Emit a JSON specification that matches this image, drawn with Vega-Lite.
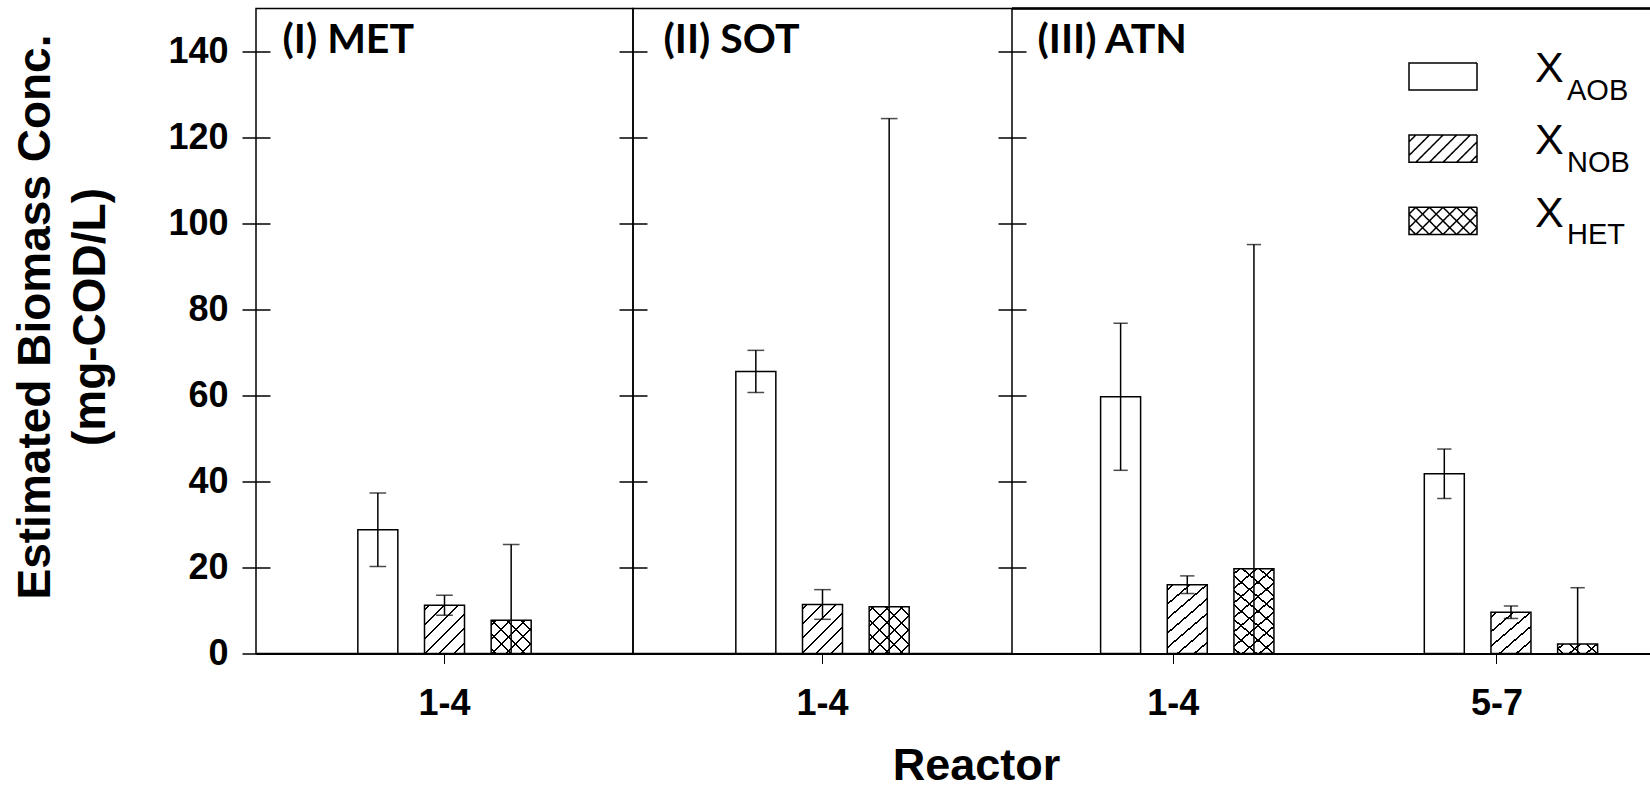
{
  "$schema": "https://vega.github.io/schema/vega-lite/v6.json",
  "padding": {"left": 11, "top": 7.5, "right": 0, "bottom": 0},
  "params": [
    {"name": "hatchWhite", "value": [
      {"offset": 0.02857, "color": "white"}, {"offset": 0.02857, "color": "black"}, {"offset": 0.04286, "color": "black"}, {"offset": 0.04286, "color": "white"},
      {"offset": 0.13214, "color": "white"}, {"offset": 0.13214, "color": "black"}, {"offset": 0.14643, "color": "black"}, {"offset": 0.14643, "color": "white"},
      {"offset": 0.23571, "color": "white"}, {"offset": 0.23571, "color": "black"}, {"offset": 0.25, "color": "black"}, {"offset": 0.25, "color": "white"},
      {"offset": 0.33929, "color": "white"}, {"offset": 0.33929, "color": "black"}, {"offset": 0.35357, "color": "black"}, {"offset": 0.35357, "color": "white"},
      {"offset": 0.44286, "color": "white"}, {"offset": 0.44286, "color": "black"}, {"offset": 0.45714, "color": "black"}, {"offset": 0.45714, "color": "white"},
      {"offset": 0.54643, "color": "white"}, {"offset": 0.54643, "color": "black"}, {"offset": 0.56071, "color": "black"}, {"offset": 0.56071, "color": "white"},
      {"offset": 0.65, "color": "white"}, {"offset": 0.65, "color": "black"}, {"offset": 0.66429, "color": "black"}, {"offset": 0.66429, "color": "white"},
      {"offset": 0.75357, "color": "white"}, {"offset": 0.75357, "color": "black"}, {"offset": 0.76786, "color": "black"}, {"offset": 0.76786, "color": "white"},
      {"offset": 0.85714, "color": "white"}, {"offset": 0.85714, "color": "black"}, {"offset": 0.87143, "color": "black"}, {"offset": 0.87143, "color": "white"},
      {"offset": 0.96071, "color": "white"}, {"offset": 0.96071, "color": "black"}, {"offset": 0.975, "color": "black"}, {"offset": 0.975, "color": "white"}
    ]},
    {"name": "hatchClear", "value": [
      {"offset": 0.02857, "color": "rgba(0,0,0,0)"}, {"offset": 0.02857, "color": "black"}, {"offset": 0.04286, "color": "black"}, {"offset": 0.04286, "color": "rgba(0,0,0,0)"},
      {"offset": 0.13214, "color": "rgba(0,0,0,0)"}, {"offset": 0.13214, "color": "black"}, {"offset": 0.14643, "color": "black"}, {"offset": 0.14643, "color": "rgba(0,0,0,0)"},
      {"offset": 0.23571, "color": "rgba(0,0,0,0)"}, {"offset": 0.23571, "color": "black"}, {"offset": 0.25, "color": "black"}, {"offset": 0.25, "color": "rgba(0,0,0,0)"},
      {"offset": 0.33929, "color": "rgba(0,0,0,0)"}, {"offset": 0.33929, "color": "black"}, {"offset": 0.35357, "color": "black"}, {"offset": 0.35357, "color": "rgba(0,0,0,0)"},
      {"offset": 0.44286, "color": "rgba(0,0,0,0)"}, {"offset": 0.44286, "color": "black"}, {"offset": 0.45714, "color": "black"}, {"offset": 0.45714, "color": "rgba(0,0,0,0)"},
      {"offset": 0.54643, "color": "rgba(0,0,0,0)"}, {"offset": 0.54643, "color": "black"}, {"offset": 0.56071, "color": "black"}, {"offset": 0.56071, "color": "rgba(0,0,0,0)"},
      {"offset": 0.65, "color": "rgba(0,0,0,0)"}, {"offset": 0.65, "color": "black"}, {"offset": 0.66429, "color": "black"}, {"offset": 0.66429, "color": "rgba(0,0,0,0)"},
      {"offset": 0.75357, "color": "rgba(0,0,0,0)"}, {"offset": 0.75357, "color": "black"}, {"offset": 0.76786, "color": "black"}, {"offset": 0.76786, "color": "rgba(0,0,0,0)"},
      {"offset": 0.85714, "color": "rgba(0,0,0,0)"}, {"offset": 0.85714, "color": "black"}, {"offset": 0.87143, "color": "black"}, {"offset": 0.87143, "color": "rgba(0,0,0,0)"},
      {"offset": 0.96071, "color": "rgba(0,0,0,0)"}, {"offset": 0.96071, "color": "black"}, {"offset": 0.975, "color": "black"}, {"offset": 0.975, "color": "rgba(0,0,0,0)"}
    ]}
  ],
  "data": {"values": [
    {"panel": "MET", "reactor": "1-4", "type": "AOB", "value": 28.8, "low": 20.25, "high": 37.35},
    {"panel": "MET", "reactor": "1-4", "type": "NOB", "value": 11.2, "low": 8.9, "high": 13.55},
    {"panel": "MET", "reactor": "1-4", "type": "HET", "value": 7.75, "low": -9.85, "high": 25.35},
    {"panel": "SOT", "reactor": "1-4", "type": "AOB", "value": 65.6, "low": 60.7, "high": 70.5},
    {"panel": "SOT", "reactor": "1-4", "type": "NOB", "value": 11.4, "low": 7.95, "high": 14.85},
    {"panel": "SOT", "reactor": "1-4", "type": "HET", "value": 10.9, "low": -102.6, "high": 124.4},
    {"panel": "ATN", "reactor": "1-4", "type": "AOB", "value": 59.7, "low": 42.6, "high": 76.8},
    {"panel": "ATN", "reactor": "1-4", "type": "NOB", "value": 16.0, "low": 13.95, "high": 18.05},
    {"panel": "ATN", "reactor": "1-4", "type": "HET", "value": 19.7, "low": -55.7, "high": 95.1},
    {"panel": "ATN", "reactor": "5-7", "type": "AOB", "value": 41.8, "low": 36.05, "high": 47.55},
    {"panel": "ATN", "reactor": "5-7", "type": "NOB", "value": 9.6, "low": 8.15, "high": 11.05},
    {"panel": "ATN", "reactor": "5-7", "type": "HET", "value": 2.2, "low": -10.9, "high": 15.3}
  ]},
  "spacing": 0,
  "bounds": "flush",
  "resolve": {
    "scale": {"shape": "independent", "strokeDash": "independent"},
    "legend": {"shape": "independent", "strokeDash": "independent"}
  },
  "hconcat": [
    {
      "width": 377,
      "height": 645,
      "transform": [{"filter": "datum.panel === 'MET'"}],
      "encoding": {
        "x": {"field": "reactor", "type": "nominal", "scale": {"paddingInner": 0, "paddingOuter": 0.4425},
          "axis": {"title": "(I) MET", "titleFont": "Lato", "titleFontWeight": "bold", "titleFontSize": 41, "titleColor": "black", "titleAlign": "left", "titleBaseline": "alphabetic", "titleX": 26, "titleY": -601.5,
            "labelAngle": 0, "labelFont": "Liberation Sans", "labelFontSize": 36, "labelFontWeight": "bold", "labelColor": "black", "labelPadding": 23, "tickSize": 10, "tickWidth": 1, "tickColor": "black", "domainColor": "black", "domainWidth": 2}},
        "xOffset": {"field": "type", "type": "nominal", "scale": {"domain": ["AOB", "NOB", "HET"], "paddingInner": 0.4, "paddingOuter": 0.2}}
      },
      "layer": [
        {
          "mark": {"type": "bar", "stroke": "black", "strokeWidth": 1.5},
          "encoding": {
            "y": {"field": "value", "type": "quantitative", "scale": {"domain": [0, 150], "nice": false, "clamp": true},
              "axis": {"values": [0, 20, 40, 60, 80, 100, 120, 140], "offset": -14, "tickSize": 28, "tickWidth": 1.5, "tickColor": "black", "domain": false, "grid": false,
                "labelFont": "Liberation Sans", "labelFontSize": 36, "labelFontWeight": "bold", "labelColor": "black", "labelPadding": 14,
                "title": ["Estimated Biomass Conc.", "(mg-COD/L)"], "titleFont": "Liberation Sans", "titleFontSize": 46, "titleFontWeight": "bold", "titleColor": "black",
                "titleLineHeight": 55, "titleAngle": -90, "titleAlign": "center", "titleBaseline": "middle", "titleX": -235, "titleY": 308}},
            "fill": {"value": {"expr": "datum.type === 'AOB' ? 'white' : {gradient: 'linear', x1: 0, y1: 0, x2: 5600 / (1600 + pow(4.3 * datum.value, 2)), y2: 602 * datum.value / (1600 + pow(4.3 * datum.value, 2)), stops: hatchWhite}"}}
          }
        },
        {
          "transform": [{"filter": "datum.type === 'HET'"}],
          "mark": {"type": "bar", "strokeWidth": 0},
          "encoding": {
            "y": {"field": "value", "type": "quantitative", "scale": {"domain": [0, 150], "nice": false, "clamp": true}},
            "fill": {"value": {"expr": "{gradient: 'linear', x1: 0, y1: 1, x2: 5600 / (1600 + pow(4.3 * datum.value, 2)), y2: 1 - 602 * datum.value / (1600 + pow(4.3 * datum.value, 2)), stops: hatchClear}"}}
          }
        },
        {
          "mark": {"type": "rule", "color": "black", "strokeWidth": 1.5},
          "encoding": {
            "y": {"field": "low", "type": "quantitative", "scale": {"domain": [0, 150], "nice": false, "clamp": true}},
            "y2": {"field": "high"}
          }
        },
        {
          "mark": {"type": "tick", "color": "black", "size": 16.7, "thickness": 1.5},
          "encoding": {"y": {"field": "high", "type": "quantitative", "scale": {"domain": [0, 150], "nice": false, "clamp": true}}}
        },
        {
          "transform": [{"filter": "datum.low > 0"}],
          "mark": {"type": "tick", "color": "black", "size": 16.7, "thickness": 1.5},
          "encoding": {"y": {"field": "low", "type": "quantitative", "scale": {"domain": [0, 150], "nice": false, "clamp": true}}}
        }
      ]
    },
    {
      "width": 379,
      "height": 645,
      "transform": [{"filter": "datum.panel === 'SOT'"}],
      "encoding": {
        "x": {"field": "reactor", "type": "nominal", "scale": {"paddingInner": 0, "paddingOuter": 0.4475},
          "axis": {"title": "Reactor", "titleFont": "Liberation Sans", "titleFontSize": 45, "titleFontWeight": "bold", "titleColor": "black", "titleX": 343, "titleY": 126, "titleAlign": "center", "titleBaseline": "alphabetic",
            "labelAngle": 0, "labelFont": "Liberation Sans", "labelFontSize": 36, "labelFontWeight": "bold", "labelColor": "black", "labelPadding": 23, "tickSize": 10, "tickWidth": 1, "tickColor": "black", "domainColor": "black", "domainWidth": 2}},
        "xOffset": {"field": "type", "type": "nominal", "scale": {"domain": ["AOB", "NOB", "HET"], "paddingInner": 0.4, "paddingOuter": 0.2}}
      },
      "layer": [
        {
          "mark": {"type": "bar", "stroke": "black", "strokeWidth": 1.5},
          "encoding": {
            "y": {"field": "value", "type": "quantitative", "scale": {"domain": [0, 150], "nice": false, "clamp": true},
              "axis": {"values": [0, 20, 40, 60, 80, 100, 120, 140], "offset": -14, "tickSize": 28, "tickWidth": 1.5, "tickColor": "black", "domain": false, "grid": false, "labels": false,
                "title": "(II) SOT", "titleFont": "Lato", "titleFontWeight": "bold", "titleFontSize": 41, "titleColor": "black", "titleAngle": 0, "titleAlign": "left", "titleBaseline": "alphabetic", "titleX": 16, "titleY": 44}},
            "fill": {"value": {"expr": "datum.type === 'AOB' ? 'white' : {gradient: 'linear', x1: 0, y1: 0, x2: 5600 / (1600 + pow(4.3 * datum.value, 2)), y2: 602 * datum.value / (1600 + pow(4.3 * datum.value, 2)), stops: hatchWhite}"}}
          }
        },
        {
          "transform": [{"filter": "datum.type === 'HET'"}],
          "mark": {"type": "bar", "strokeWidth": 0},
          "encoding": {
            "y": {"field": "value", "type": "quantitative", "scale": {"domain": [0, 150], "nice": false, "clamp": true}},
            "fill": {"value": {"expr": "{gradient: 'linear', x1: 0, y1: 1, x2: 5600 / (1600 + pow(4.3 * datum.value, 2)), y2: 1 - 602 * datum.value / (1600 + pow(4.3 * datum.value, 2)), stops: hatchClear}"}}
          }
        },
        {
          "mark": {"type": "rule", "color": "black", "strokeWidth": 1.5},
          "encoding": {
            "y": {"field": "low", "type": "quantitative", "scale": {"domain": [0, 150], "nice": false, "clamp": true}},
            "y2": {"field": "high"}
          }
        },
        {
          "mark": {"type": "tick", "color": "black", "size": 16.7, "thickness": 1.5},
          "encoding": {"y": {"field": "high", "type": "quantitative", "scale": {"domain": [0, 150], "nice": false, "clamp": true}}}
        },
        {
          "transform": [{"filter": "datum.low > 0"}],
          "mark": {"type": "tick", "color": "black", "size": 16.7, "thickness": 1.5},
          "encoding": {"y": {"field": "low", "type": "quantitative", "scale": {"domain": [0, 150], "nice": false, "clamp": true}}}
        }
      ]
    },
    {
      "width": 638,
      "height": 645,
      "view": {"stroke": null},
      "transform": [{"filter": "datum.panel === 'ATN'"}],
      "layer": [
        {
          "encoding": {
            "x": {"field": "reactor", "type": "nominal", "scale": {"paddingInner": 0.4686, "paddingOuter": 0.2198, "align": 0.529},
              "axis": {"title": null, "labelAngle": 0, "labelFont": "Liberation Sans", "labelFontSize": 36, "labelFontWeight": "bold", "labelColor": "black", "labelPadding": 23, "tickSize": 10, "tickWidth": 1, "tickColor": "black", "domainColor": "black", "domainWidth": 2}},
            "xOffset": {"field": "type", "type": "nominal", "scale": {"domain": ["AOB", "NOB", "HET"], "paddingInner": 0.4, "paddingOuter": 0.2}}
          },
          "layer": [
            {
              "mark": {"type": "bar", "stroke": "black", "strokeWidth": 1.5},
              "encoding": {
                "y": {"field": "value", "type": "quantitative", "scale": {"domain": [0, 150], "nice": false, "clamp": true},
                  "axis": {"values": [0, 20, 40, 60, 80, 100, 120, 140], "offset": -14, "tickSize": 28, "tickWidth": 1.5, "tickColor": "black", "domain": false, "grid": false, "labels": false,
                    "title": "(III) ATN", "titleFont": "Lato", "titleFontWeight": "bold", "titleFontSize": 41, "titleColor": "black", "titleAngle": 0, "titleAlign": "left", "titleBaseline": "alphabetic", "titleX": 11, "titleY": 44}},
                "fill": {"value": {"expr": "datum.type === 'AOB' ? 'white' : {gradient: 'linear', x1: 0, y1: 0, x2: 4816 / (1183.36 + pow(4.3 * datum.value, 2)), y2: 602 * datum.value / (1183.36 + pow(4.3 * datum.value, 2)), stops: hatchWhite}"}}
              }
            },
            {
              "transform": [{"filter": "datum.type === 'HET'"}],
              "mark": {"type": "bar", "strokeWidth": 0},
              "encoding": {
                "y": {"field": "value", "type": "quantitative", "scale": {"domain": [0, 150], "nice": false, "clamp": true}},
                "fill": {"value": {"expr": "{gradient: 'linear', x1: 0, y1: 1, x2: 4816 / (1183.36 + pow(4.3 * datum.value, 2)), y2: 1 - 602 * datum.value / (1183.36 + pow(4.3 * datum.value, 2)), stops: hatchClear}"}}
              }
            },
            {
              "mark": {"type": "rule", "color": "black", "strokeWidth": 1.5},
              "encoding": {
                "y": {"field": "low", "type": "quantitative", "scale": {"domain": [0, 150], "nice": false, "clamp": true}},
                "y2": {"field": "high"},
                "strokeDash": {"field": "type", "type": "nominal", "sort": ["AOB", "NOB", "HET"], "scale": {"range": [[1, 0], [1, 0], [1, 0]]},
                  "legend": {"orient": "none", "legendX": 396, "legendY": 33, "title": null, "padding": 0, "symbolSize": 4624, "symbolType": "M-1,-0.4H1V0.4H-1Z", "symbolOpacity": 1,
                    "symbolFillColor": "white", "symbolStrokeColor": "black", "symbolStrokeWidth": 1.5,
                    "labelFont": "Liberation Sans", "labelFontSize": 29, "labelColor": "black", "labelOffset": 89, "labelLimit": 0, "labelBaseline": "alphabetic", "rowPadding": 8.2,
                    "encode": {
                      "symbols": {"update": {
                        "shape": {"signal": "datum.value === 'NOB' ? 'M-1,-0.4H1V0.4H-1Z M-1,-0.2L-0.8,-0.4 M-1,0.2L-0.4,-0.4 M-0.8,0.4L0,-0.4 M-0.4,0.4L0.4,-0.4 M0,0.4L0.8,-0.4 M0.4,0.4L1,-0.2 M0.8,0.4L1,0.2' : datum.value === 'HET' ? 'M-1,-0.4H1V0.4H-1Z M-1,-0.2L-0.8,-0.4 M-1,0.2L-0.4,-0.4 M-0.8,0.4L0,-0.4 M-0.4,0.4L0.4,-0.4 M0,0.4L0.8,-0.4 M0.4,0.4L1,-0.2 M0.8,0.4L1,0.2 M-1,0.2L-0.8,0.4 M-1,-0.2L-0.4,0.4 M-0.8,-0.4L0,0.4 M-0.4,-0.4L0.4,0.4 M0,-0.4L0.8,0.4 M0.4,-0.4L1,0.2 M0.8,-0.4L1,-0.2' : 'M-1,-0.4H1V0.4H-1Z'"},
                        "fill": {"value": "white"}, "stroke": {"value": "black"}, "strokeWidth": {"value": 1.5}, "opacity": {"value": 1}}},
                      "labels": {"update": {"dy": {"value": 23}}}
                    }}
                }
              }
            },
            {
              "mark": {"type": "tick", "color": "black", "size": 14.3, "thickness": 1.5},
              "encoding": {"y": {"field": "high", "type": "quantitative", "scale": {"domain": [0, 150], "nice": false, "clamp": true}}}
            },
            {
              "transform": [{"filter": "datum.low > 0"}],
              "mark": {"type": "tick", "color": "black", "size": 14.3, "thickness": 1.5},
              "encoding": {"y": {"field": "low", "type": "quantitative", "scale": {"domain": [0, 150], "nice": false, "clamp": true}}}
            }
          ]
        },
        {
          "mark": {"type": "rule", "color": "black", "strokeWidth": 1.5},
          "encoding": {"y": {"datum": 150, "type": "quantitative", "scale": {"domain": [0, 150], "nice": false, "clamp": true}}}
        },
        {
          "transform": [{"filter": "false"}],
          "mark": {"type": "point", "filled": true, "fill": "white", "stroke": "black", "strokeWidth": 1.5},
          "encoding": {
            "shape": {"field": "type", "type": "nominal",
              "scale": {"domain": ["AOB", "NOB", "HET"], "range": ["M-1,-0.4H1V0.4H-1Z", "M-1,-0.4H1V0.4H-1Z", "M-1,-0.4H1V0.4H-1Z"]},
              "legend": {"orient": "none", "legendX": 396, "legendY": 25, "title": null, "padding": 0, "symbolSize": 4624, "symbolOpacity": 0,
                "labelExpr": "'X'", "labelFont": "Liberation Sans", "labelFontSize": 43, "labelColor": "black", "labelOffset": 57, "labelLimit": 0, "rowPadding": 15.7,
                "encode": {"labels": {"update": {"dy": {"value": -7}}}}}
            }
          }
        }
      ]
    }
  ],
  "config": {
    "font": "Liberation Sans",
    "background": "white",
    "view": {"stroke": "black", "strokeWidth": 1.5}
  }
}
